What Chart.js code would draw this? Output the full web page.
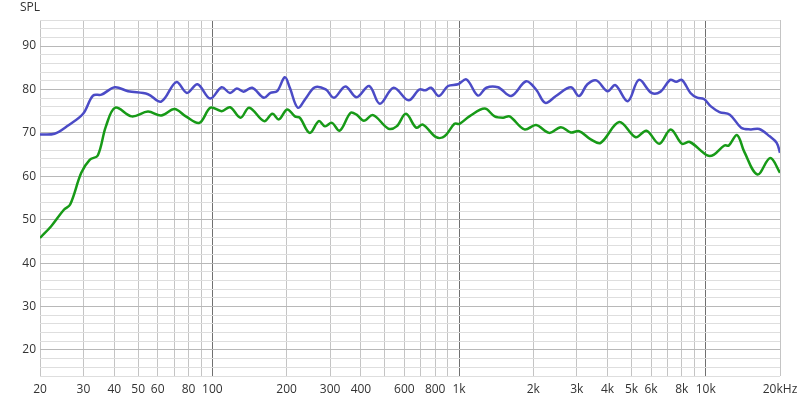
<!DOCTYPE html>
<html>
<head>
<meta charset="utf-8">
<script src="https://cdn.jsdelivr.net/npm/chart.js@4/dist/chart.umd.min.js"></script>
<style>
  html, body { margin: 0; padding: 0; background: #fff; }
  #wrap { width: 800px; height: 400px; }
</style>
</head>
<body>
<div id="wrap"><canvas id="spl"></canvas></div>
<script>
// blue curve (freq Hz / dB)
const blueFreq = [20, 22.9, 26, 29.9, 32.8, 35.5, 40.2, 45.5, 54.8, 62, 71.4, 78.8, 87, 98, 109, 117.8, 125.6, 133.8, 145, 161.6, 171.9, 183, 196.6, 206, 222, 240, 260, 288, 311, 346, 384, 432, 477, 543, 624, 690, 729, 770, 828, 902, 990, 1072, 1193, 1290, 1438, 1627, 1870, 2051, 2237, 2470, 2838, 3066, 3313, 3600, 4000, 4300, 4830, 5360, 6030, 6560, 7170, 7590, 8010, 8670, 9230, 9830, 10490, 11370, 12520, 13920, 15200, 16480, 18170, 19390, 20000];
const blueSpl = [69.6, 69.8, 71.7, 74.4, 78.6, 78.8, 80.5, 79.6, 78.9, 77.2, 81.7, 79.2, 81.2, 77.9, 80.5, 79.2, 80.2, 79.5, 80.4, 78.1, 79.2, 79.6, 82.8, 80.4, 75.8, 78.1, 80.5, 80, 78.1, 80.7, 78.2, 80.8, 76.7, 80.4, 77.5, 80, 79.8, 80.4, 78.5, 80.8, 81.2, 82.3, 78.6, 80.4, 80.5, 78.5, 81.9, 80, 76.9, 78.5, 80.5, 78.5, 81.2, 82.1, 79.6, 81, 77.3, 82.2, 79.2, 79.5, 82.2, 81.8, 82.2, 79.2, 78.1, 77.8, 76.1, 74.8, 74.2, 71.2, 70.8, 70.9, 69.2, 67.7, 65.4];

// green curve (freq Hz / dB)
const greenFreq = [20, 22.2, 25, 26.5, 29.4, 31.8, 34.3, 37, 40.4, 47.1, 54.8, 62, 70.2, 78, 88.5, 98.3, 109, 118, 130, 141, 162, 175, 186, 201, 216, 226, 248, 270, 286, 305, 328, 363, 384, 411, 448, 516, 558, 609, 670, 713, 808, 873, 958, 1004, 1101, 1270, 1394, 1507, 1603, 1841, 2051, 2322, 2586, 2838, 3066, 3418, 3750, 4460, 5200, 5750, 6480, 7210, 8010, 8620, 10150, 10800, 11900, 12400, 13400, 14290, 16200, 18250, 20000];
const greenSpl = [45.8, 48.5, 52.3, 53.5, 60.8, 63.8, 64.8, 71.5, 75.8, 73.8, 74.9, 74, 75.5, 73.8, 72.3, 75.8, 75, 75.9, 73.5, 75.8, 72.7, 74.4, 73.1, 75.4, 73.8, 73.5, 70, 72.7, 71.5, 72.3, 70.5, 74.6, 74.2, 72.8, 74.1, 71, 71.5, 74.4, 71.2, 71.9, 69, 69.2, 72.1, 72.1, 73.8, 75.6, 73.8, 73.5, 73.8, 70.8, 71.8, 70, 71.3, 70.1, 70.4, 68.5, 67.7, 72.5, 69, 70.5, 67.5, 70.8, 67.5, 67.9, 64.8, 65, 67.1, 67.1, 69.5, 65.8, 60.4, 64.2, 60.8];

// x grid positions and which ones get a label
const freqTicks = [20, 30, 40, 50, 60, 70, 80, 90, 100, 200, 300, 400, 500, 600, 700, 800, 900, 1000, 2000, 3000, 4000, 5000, 6000, 7000, 8000, 9000, 10000, 20000];
const freqLabels = {20: '20', 30: '30', 40: '40', 50: '50', 60: '60', 80: '80', 100: '100', 200: '200', 300: '300', 400: '400', 600: '600', 800: '800', 1000: '1k', 2000: '2k', 3000: '3k', 4000: '4k', 5000: '5k', 6000: '6k', 8000: '8k', 10000: '10k', 20000: '20kHz'};

const toPoints = (f, v) => f.map((x, i) => ({ x: x, y: v[i] }));

const splLabel = {
  id: 'splLabel',
  afterDraw(chart) {
    const ctx = chart.ctx;
    ctx.save();
    ctx.font = '12px "Open Sans"';
    ctx.fillStyle = '#333';
    ctx.textBaseline = 'middle';
    ctx.fillText('SPL', 20, 8);
    ctx.restore();
  }
};

new Chart(document.getElementById('spl'), {
  type: 'line',
  data: {
    datasets: [{
      data: toPoints(blueFreq, blueSpl),
      borderColor: '#4b4bc6',
      borderWidth: 2.5,
      pointRadius: 0,
      tension: 0.35,
      fill: false
    }, {
      data: toPoints(greenFreq, greenSpl),
      borderColor: '#179a17',
      borderWidth: 2.5,
      pointRadius: 0,
      tension: 0.35,
      fill: false
    }]
  },
  options: {
    responsive: true,
    maintainAspectRatio: false,
    animation: false,
    layout: { padding: { top: 20, right: 20, left: 0, bottom: 0 } },
    plugins: { legend: { display: false }, tooltip: { enabled: false } },
    scales: {
      x: {
        type: 'logarithmic',
        min: 20,
        max: 20000,
        afterBuildTicks: (axis) => { axis.ticks = freqTicks.map(v => ({ value: v })); },
        afterFit: (axis) => { axis.height = 24; axis.paddingLeft = 0; axis.paddingRight = 0; },
        border: { display: false },
        grid: {
          drawTicks: false,
          color: (c) => [100, 1000, 10000].includes(c.tick && c.tick.value) ? '#707070' : '#c4c4c4',
          lineWidth: 1
        },
        ticks: {
          autoSkip: false,
          maxRotation: 0,
          padding: 6,
          color: '#333',
          font: { family: 'Open Sans', size: 12 },
          callback: (v) => freqLabels[v] || ''
        }
      },
      y: {
        min: 14,
        max: 96,
        afterFit: (axis) => { axis.width = 40; axis.paddingTop = 0; axis.paddingBottom = 0; },
        border: { display: false },
        grid: {
          drawTicks: false,
          color: (c) => (c.tick && c.tick.value % 10 === 0) ? '#b8b8b8' : '#dedede'
        },
        ticks: {
          stepSize: 2,
          autoSkip: false,
          padding: 4,
          color: '#333',
          font: { family: 'Open Sans', size: 12 },
          callback: (v) => v % 10 === 0 ? v : ''
        }
      }
    }
  },
  plugins: [splLabel]
});
</script>
</body>
</html>
